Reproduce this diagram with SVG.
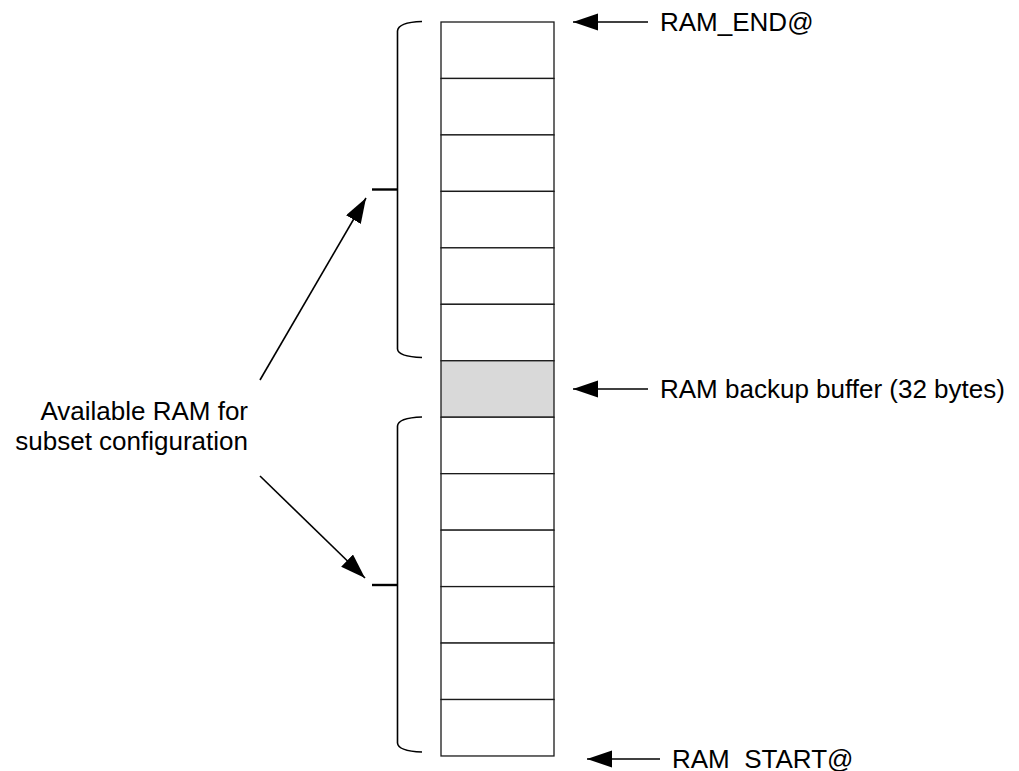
<svg xmlns="http://www.w3.org/2000/svg" width="1019" height="771" viewBox="0 0 1019 771">
  <defs>
    <marker id="ah" markerUnits="userSpaceOnUse" markerWidth="26" markerHeight="18" refX="25" refY="8.5" orient="auto">
      <path d="M0,0 L25,8.5 L0,17 Z" fill="#000"/>
    </marker>
  </defs>
  <style>
    .cell { fill: #fff; stroke: #1a1a1a; stroke-width: 1.3; }
    .gray { fill: #d9d9d9; }
    .brace { fill: none; stroke: #000; stroke-width: 1.6; }
    .tick { stroke: #000; stroke-width: 2.4; }
    .conn { stroke: #000; stroke-width: 1.6; fill: none; marker-end: url(#ah); }
    .lbl { font-family: "Liberation Sans", Arial, sans-serif; font-size: 26px; fill: #000; }
  </style>
  <rect width="1019" height="771" fill="#fff"/>

  <g id="memory">
    <rect id="cell-13" class="cell" x="441" y="22" width="113" height="56.46"/>
    <rect id="cell-12" class="cell" x="441" y="78.46" width="113" height="56.46"/>
    <rect id="cell-11" class="cell" x="441" y="134.92" width="113" height="56.46"/>
    <rect id="cell-10" class="cell" x="441" y="191.38" width="113" height="56.46"/>
    <rect id="cell-9" class="cell" x="441" y="247.84" width="113" height="56.46"/>
    <rect id="cell-8" class="cell" x="441" y="304.3" width="113" height="56.46"/>
    <rect id="cell-backup" class="cell gray" x="441" y="360.76" width="113" height="56.46"/>
    <rect id="cell-6" class="cell" x="441" y="417.22" width="113" height="56.46"/>
    <rect id="cell-5" class="cell" x="441" y="473.68" width="113" height="56.46"/>
    <rect id="cell-4" class="cell" x="441" y="530.14" width="113" height="56.46"/>
    <rect id="cell-3" class="cell" x="441" y="586.6" width="113" height="56.46"/>
    <rect id="cell-2" class="cell" x="441" y="643.06" width="113" height="56.46"/>
    <rect id="cell-1" class="cell" x="441" y="699.52" width="113" height="56.46"/>
  </g>

  <g id="brace-upper">
    <path class="brace" d="M422,21.5 C408,22 398,24 397.5,31 L397.5,349 C398,355 408,357 422,357.5"/>
    <line class="tick" x1="372" y1="189.5" x2="397.5" y2="189.5"/>
  </g>

  <g id="brace-lower">
    <path class="brace" d="M422,417 C408,417.5 398,419.5 397.5,426 L397.5,743 C398,749.5 408,751.5 422,752"/>
    <line class="tick" x1="372" y1="585" x2="397.5" y2="585"/>
  </g>

  <g id="label-ram-end">
    <text class="lbl" x="660" y="31">RAM_END@</text>
  </g>
  <g id="label-backup">
    <text class="lbl" x="660" y="398">RAM backup buffer (32 bytes)</text>
  </g>
  <g id="label-ram-start">
    <text class="lbl" x="672" y="768">RAM_START@</text>
  </g>
  <g id="label-available">
    <text class="lbl" x="248" y="420" text-anchor="end">Available RAM for</text>
    <text class="lbl" x="248" y="450" text-anchor="end">subset configuration</text>
  </g>

  <g id="connectors">
    <line class="conn" x1="648" y1="22" x2="573" y2="22"/>
    <line class="conn" x1="648" y1="389" x2="573" y2="389"/>
    <line class="conn" x1="660" y1="759" x2="587" y2="759"/>
    <line class="conn" x1="260" y1="380" x2="366" y2="198"/>
    <line class="conn" x1="260" y1="476" x2="365" y2="578"/>
  </g>
</svg>
